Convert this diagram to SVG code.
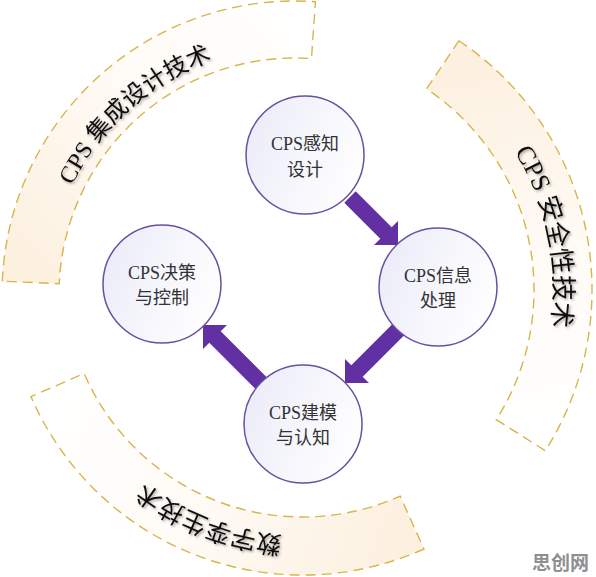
<svg xmlns="http://www.w3.org/2000/svg" width="596" height="577" viewBox="0 0 596 577">
<style>
.band{stroke:#d8b54c;stroke-width:1.4;stroke-dasharray:10 6}
.bandtext{font-family:"Liberation Serif","Noto Sans CJK SC",serif;fill:#111;filter:url(#shadow)}
.node{fill:url(#nodeGrad);stroke:#6a50a0;stroke-width:1.5}
.label{font-family:"Liberation Serif","Noto Sans CJK SC",serif;font-size:18px;fill:#333;text-anchor:middle}
.arrow{fill:#6330a3}
</style>
<defs>
<linearGradient id="nodeGrad" x1="0" y1="0.3" x2="1" y2="0.7">
<stop offset="0" stop-color="#ebecf8"/>
<stop offset="0.6" stop-color="#f8f8fd"/>
<stop offset="1" stop-color="#ffffff"/>
</linearGradient>
<linearGradient id="gLeft" gradientUnits="userSpaceOnUse" x1="30" y1="282" x2="313" y2="30">
<stop offset="0" stop-color="#fcf0df"/>
<stop offset="0.5" stop-color="#fffaf4"/>
<stop offset="1" stop-color="#ffffff"/>
</linearGradient>
<linearGradient id="gRight" gradientUnits="userSpaceOnUse" x1="443" y1="65" x2="520" y2="435">
<stop offset="0" stop-color="#fcf0df"/>
<stop offset="0.5" stop-color="#fffaf4"/>
<stop offset="1" stop-color="#ffffff"/>
</linearGradient>
<linearGradient id="gBottom" gradientUnits="userSpaceOnUse" x1="412" y1="522" x2="57" y2="385">
<stop offset="0" stop-color="#fcf0df"/>
<stop offset="0.5" stop-color="#fffaf4"/>
<stop offset="1" stop-color="#ffffff"/>
</linearGradient>
<filter id="shadow" x="-20%" y="-20%" width="140%" height="140%">
<feDropShadow dx="1.5" dy="1.5" stdDeviation="1.2" flood-color="#000" flood-opacity="0.35"/>
</filter>
<path id="tpLeft" d="M47.24,283.18 A248,248 0 0 1 312.30,46.60"/>
<path id="tpRight" d="M437.75,72.28 A262,262 0 0 1 513.21,430.39"/>
<path id="tpBottom" d="M408.36,514.33 A258,258 0 0 1 65.82,381.46"/>
</defs>
<rect width="596" height="577" fill="#ffffff"/>

<g id="band-integration">
<path class="band" fill="url(#gLeft)" d="M2.28,281.22 A293,293 0 0 1 315.44,1.71 L311.46,58.58 A236,236 0 0 0 59.22,283.71 Z"/>
<text class="bandtext" font-size="24"><textPath href="#tpLeft" startOffset="50%" text-anchor="middle">CPS 集成设计技术</textPath></text>
</g>
<g id="band-security">
<path class="band" fill="url(#gRight)" d="M458.89,40.71 A300,300 0 0 1 545.30,450.75 L496.33,419.67 A242,242 0 0 0 426.62,88.90 Z"/>
<text class="bandtext" font-size="26"><textPath href="#tpRight" startOffset="50%" text-anchor="middle">CPS 安全性技术</textPath></text>
</g>
<g id="band-twin">
<path class="band" fill="url(#gBottom)" d="M423.94,548.99 A296,296 0 0 1 30.95,396.56 L84.18,373.52 A238,238 0 0 0 400.16,496.08 Z"/>
<text class="bandtext" font-size="25"><textPath href="#tpBottom" startOffset="50%" text-anchor="middle">数字孪生技术</textPath></text>
</g>

<g id="connectors">
<polygon class="arrow" points="355.7,191.3 391.7,227.3 398,221 398,245 374,245 380.3,238.7 344.3,202.7"/>
<polygon class="arrow" points="404.7,334.7 362.7,376.7 369,383 345,383 345,359 351.3,365.3 393.3,323.3"/>
<polygon class="arrow" points="256.3,389.7 209.3,342.7 203,349 203,325 227,325 220.7,331.3 267.7,378.3"/>
</g>

<g id="node-sensing">
<circle class="node" cx="305" cy="155" r="59"/>
<text class="label" x="305" y="150">CPS感知</text>
<text class="label" x="305" y="176">设计</text>
</g>
<g id="node-processing">
<circle class="node" cx="438" cy="287" r="59"/>
<text class="label" x="438" y="282">CPS信息</text>
<text class="label" x="438" y="307">处理</text>
</g>
<g id="node-modeling">
<circle class="node" cx="303" cy="424" r="59"/>
<text class="label" x="303" y="419">CPS建模</text>
<text class="label" x="303" y="444">与认知</text>
</g>
<g id="node-decision">
<circle class="node" cx="162" cy="284" r="59"/>
<text class="label" x="162" y="279">CPS决策</text>
<text class="label" x="162" y="304">与控制</text>
</g>

<text x="532" y="570" font-family="Noto Sans CJK SC, sans-serif" font-size="19" font-weight="bold" fill="#8f8f8f">思创网</text>
</svg>
